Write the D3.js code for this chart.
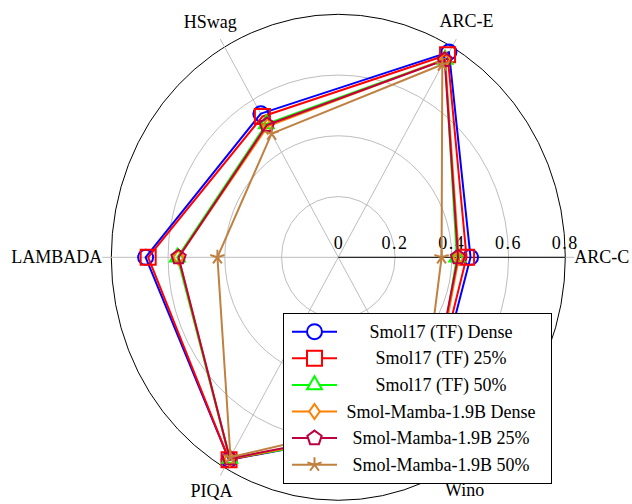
<!DOCTYPE html>
<html><head><meta charset="utf-8">
<script src="https://cdn.jsdelivr.net/npm/d3@7"></script>
<style>
body{margin:0;background:#fff}
text{font-family:"Liberation Serif","Times New Roman",serif;fill:#000}
</style>
</head><body>
<svg id="chart" width="632" height="504"></svg>
<script>
// ---- data ----
const axes = ["ARC-C", "ARC-E", "HSwag", "LAMBADA", "PIQA", "Wino"];
const seriesNames = ["Smol17 (TF) Dense", "Smol17 (TF) 25%", "Smol17 (TF) 50%",
  "Smol-Mamba-1.9B Dense", "Smol-Mamba-1.9B 25%", "Smol-Mamba-1.9B 50%"];
const smolDense   = [0.466, 0.780, 0.546, 0.679, 0.770, 0.630];
const smol25      = [0.452, 0.770, 0.535, 0.670, 0.770, 0.620];
const smol50      = [0.418, 0.752, 0.507, 0.567, 0.765, 0.640];
const mambaDense  = [0.425, 0.753, 0.498, 0.563, 0.765, 0.630];
const mamba25     = [0.422, 0.750, 0.503, 0.563, 0.765, 0.620];
const mamba50     = [0.364, 0.733, 0.470, 0.426, 0.760, 0.590];
const tickValues = [0, 0.2, 0.4, 0.6, 0.8];
const tickLabels = ["0", "0.2", "0.4", "0.6", "0.8"];
const colors = ["#0000ff", "#ff0000", "#00ff00", "#ff8000", "#bf0040", "#bf8040"];
const markers = ["circle", "square", "triangle", "diamond", "pentagon", "star"];
const seriesValues = [smolDense, smol25, smol50, mambaDense, mamba25, mamba50];

// ---- layout ----
const svg = d3.select("#chart");
const cx = 338.3, cy = 257.3;
const rMax = 0.8;
const rx = d3.scaleLinear().domain([0, rMax]).range([0, 227]);
const ry = d3.scaleLinear().domain([0, rMax]).range([0, 243]);
const angle = d3.scaleLinear().domain([0, axes.length]).range([0, 2 * Math.PI]);
function pt(i, v) {
  const a = angle(i);
  return [cx + rx(v) * Math.cos(a), cy - ry(v) * Math.sin(a)];
}

// grid ellipses
const grid = svg.append("g");
tickValues.filter(v => v > 0).forEach(v => {
  grid.append("ellipse")
    .attr("cx", cx).attr("cy", cy)
    .attr("rx", rx(v)).attr("ry", ry(v))
    .attr("fill", "none")
    .attr("stroke", v === rMax ? "#000" : "#bdbdbd")
    .attr("stroke-width", 1);
});
// spokes
axes.forEach((name, i) => {
  const a = angle(i);
  const [x1, y1] = pt(i, rMax);
  grid.append("line")
    .attr("x1", cx).attr("y1", cy)
    .attr("x2", x1 + 9 * Math.cos(a)).attr("y2", y1 - 9 * Math.sin(a))
    .attr("stroke", "#bdbdbd").attr("stroke-width", 1);
});
// radial axis (black) along ARC-C
grid.append("line")
  .attr("x1", cx).attr("y1", cy)
  .attr("x2", pt(0, rMax)[0]).attr("y2", cy)
  .attr("stroke", "#000").attr("stroke-width", 1);
// tick labels
grid.selectAll("text.tick").data(tickValues).enter().append("text")
  .attr("class", "tick")
  .attr("x", v => cx + rx(v))
  .attr("y", cy - 8)
  .attr("text-anchor", "middle")
  .attr("font-size", 18)
  .attr("letter-spacing", (v, i) => i === 0 ? 0 : 1.5)
  .text((v, i) => tickLabels[i]);

// axis labels
axes.forEach((name, i) => {
  const a = angle(i);
  const t = svg.append("text").attr("font-size", 18).attr("text-anchor", "middle").text(name);
  const w = t.node().getComputedTextLength();
  const [px, py] = pt(i, rMax);
  const c = Math.cos(a), s = Math.sin(a);
  const d = 9 + Math.abs(c) * w / 2 + Math.abs(s) * 8;
  t.attr("x", px + c * d).attr("y", py - s * d + 6);
});

// marker paths
function markerPath(type, size) {
  const p = d3.path();
  const r = size;
  if (type === "circle") {
    p.moveTo(r, 0); p.arc(0, 0, r, 0, 2 * Math.PI);
  } else if (type === "square") {
    p.rect(-r, -r, 2 * r, 2 * r);
  } else if (type === "triangle") {
    const R = r * 1.15;
    for (let k = 0; k < 3; k++) {
      const a = -Math.PI / 2 + k * 2 * Math.PI / 3;
      k ? p.lineTo(R * Math.cos(a), R * Math.sin(a)) : p.moveTo(R * Math.cos(a), R * Math.sin(a));
    }
    p.closePath();
  } else if (type === "diamond") {
    p.moveTo(0, -r); p.lineTo(r * 0.7, 0); p.lineTo(0, r); p.lineTo(-r * 0.7, 0); p.closePath();
  } else if (type === "pentagon") {
    for (let k = 0; k < 5; k++) {
      const a = -Math.PI / 2 + k * 2 * Math.PI / 5;
      k ? p.lineTo(r * Math.cos(a), r * Math.sin(a)) : p.moveTo(r * Math.cos(a), r * Math.sin(a));
    }
    p.closePath();
  } else if (type === "star") {
    for (let k = 0; k < 5; k++) {
      const a = -Math.PI / 2 + k * 2 * Math.PI / 5;
      p.moveTo(0, 0); p.lineTo(r * Math.cos(a), r * Math.sin(a));
    }
  }
  return p.toString();
}

// series
const lineGen = d3.line().curve(d3.curveLinearClosed);
const plot = svg.append("g");
seriesValues.forEach((vals, si) => {
  const pts = vals.map((v, i) => pt(i, v));
  plot.append("path")
    .attr("d", lineGen(pts))
    .attr("fill", "none")
    .attr("stroke", colors[si])
    .attr("stroke-width", 2)
    .attr("stroke-linejoin", "round");
  plot.selectAll(null).data(pts).enter().append("path")
    .attr("transform", d => `translate(${d[0]},${d[1]})`)
    .attr("d", markerPath(markers[si], 7.5))
    .attr("fill", "none")
    .attr("stroke", colors[si])
    .attr("stroke-width", 2);
});

// legend
const lg = svg.append("g");
lg.append("rect").attr("x", 283.5).attr("y", 313.5).attr("width", 268).attr("height", 170)
  .attr("fill", "#fff").attr("stroke", "#000").attr("stroke-width", 1);
seriesNames.forEach((name, si) => {
  const y = 331.7 + si * 26.6;
  lg.append("line").attr("x1", 292).attr("x2", 337).attr("y1", y).attr("y2", y)
    .attr("stroke", colors[si]).attr("stroke-width", 2);
  lg.append("path").attr("transform", `translate(314.5,${y})`)
    .attr("d", markerPath(markers[si], 7.5))
    .attr("fill", "#fff").attr("stroke", colors[si]).attr("stroke-width", 2);
  lg.append("text").attr("x", 441).attr("y", y + 6)
    .attr("text-anchor", "middle").attr("font-size", 18).text(name);
});
</script>
</body></html>
